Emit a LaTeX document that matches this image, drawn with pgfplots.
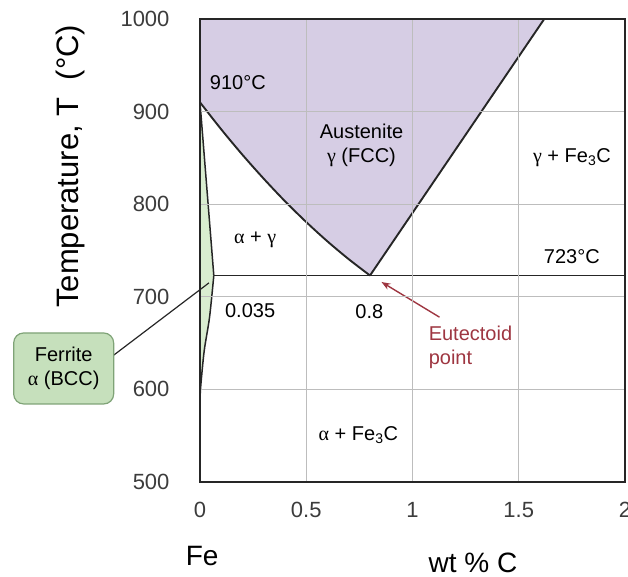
\documentclass[border=0pt]{standalone}
\usepackage{fontspec}
\setmainfont{Liberation Sans}
\newfontfamily\grk{Liberation Serif}
\usepackage{pgfplots}
\pgfplotsset{compat=1.18}
\usetikzlibrary{arrows.meta}
\definecolor{austen}{HTML}{D6CDE4}
\definecolor{ferr}{HTML}{D9EDD0}
\definecolor{boxgreen}{HTML}{C6E0BC}
\definecolor{boxedge}{HTML}{7FA377}
\definecolor{txt}{HTML}{3C3C3C}
\definecolor{eut}{HTML}{9E3641}
\definecolor{gridc}{HTML}{BDBDBD}
\newcommand\lbl{\fontsize{20}{24}\selectfont}

\begin{document}
\begin{tikzpicture}
\begin{axis}[
  at={(0,0)}, anchor=south west,
  scale only axis, width=425pt, height=463pt,
  xmin=0, xmax=2, ymin=500, ymax=1000,
  xtick={0,0.5,1,1.5,2}, ytick={500,600,700,800,900,1000},
  grid=major, major grid style={gridc, line width=0.6pt},
  major tick length=0pt,
  axis line style={line width=1.8pt, black!85},
  axis on top, clip=false,
  /pgf/number format/1000 sep={},
  /pgf/number format/assume math mode=true,
  tick label style={font=\fontsize{22}{26}\selectfont, text=txt},
  yticklabel style={xshift=-27pt},
  xticklabel style={yshift=-17pt},
  every node/.append style={text=txt},
]
% austenite field
\addplot[fill=austen, draw=none] coordinates {
  (0,1000) (0,910) (0.1,880.8) (0.2,853.3) (0.3,827.5) (0.4,803.2) (0.5,780.7) (0.6,759.8) (0.7,740.6) (0.8,723) (1.62,1000)
} -- cycle;
% ferrite field
\addplot[fill=ferr, draw=none] coordinates {
  (0,910) (0.065,723) (0.045,678) (0.02,642) (0.004,605) (0,590)
} -- cycle;
% phase boundaries
\addplot[black!85, line width=1.9pt, smooth] coordinates {
  (0,910) (0.1,880.8) (0.2,853.3) (0.3,827.5) (0.4,803.2) (0.5,780.7) (0.6,759.8) (0.7,740.6) (0.8,723)
};
\addplot[black!85, line width=1.9pt] coordinates {(0.8,723) (1.62,1000)};
\addplot[black!85, line width=1.9pt] coordinates {(0.065,723) (2,723)};
\addplot[black!85, line width=1.5pt] coordinates {(0,910) (0.065,723)};
\addplot[black!85, line width=1.5pt, smooth] coordinates {
  (0.065,723) (0.045,678) (0.02,642) (0.004,605) (0,590)
};

% labels
\node[anchor=west, font=\lbl] at (axis cs:0.03,931) {910°C};
\node[align=center, font=\lbl] at (axis cs:0.76,863) {Austenite\\{\grk γ} (FCC)};
\node[font=\lbl] at (axis cs:1.75,850) {{\grk γ} + Fe\textsubscript{3}C};
\node[font=\lbl] at (axis cs:1.75,743) {723°C};
\node[font=\lbl] at (axis cs:0.26,761) {{\grk α} + {\grk γ}};
\node[font=\lbl] at (axis cs:0.236,685) {0.035};
\node[font=\lbl] at (axis cs:0.797,684) {0.8};
\node[font=\lbl] at (axis cs:0.745,551) {{\grk α} + Fe\textsubscript{3}C};
\node[anchor=west, align=left, font=\lbl, text=eut] at (axis cs:1.06,645) {Eutectoid\\point};
\draw[eut, line width=1.4pt, -{Stealth[length=9pt]}] (axis cs:1.127,678) -- (axis cs:0.854,716);

% ferrite callout
\draw[black!85, line width=1.2pt] (axis cs:-0.406,637) -- (axis cs:0.042,715);
\node[draw=boxedge, fill=boxgreen, rounded corners=10pt, line width=1.2pt,
      minimum width=100pt, minimum height=71pt, align=center, font=\lbl]
  at (axis cs:-0.6415,622.6) {Ferrite\\{\grk α} (BCC)};

% axis labels
\node[font=\fontsize{28}{32}\selectfont] at (axis cs:0.01,420) {Fe};
\node[inner sep=0pt, font=\fontsize{28}{32}\selectfont] at (axis cs:1.285,413) {wt \% C};
\node[rotate=90, font=\fontsize{31}{36}\selectfont] at (axis cs:-0.608,841) {Temperature, T~~(°C)};
\end{axis}
\pgfresetboundingbox
\useasboundingbox (-200pt,-95pt) rectangle (428pt,482pt);
\end{tikzpicture}
\end{document}
